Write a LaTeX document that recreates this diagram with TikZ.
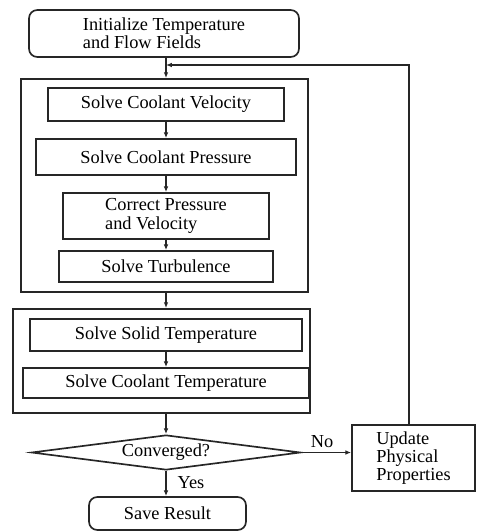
\documentclass[tikz,border=0pt]{standalone}
\usepackage{fontspec}
\setmainfont{Liberation Serif}
\usepackage{tikz}
\usetikzlibrary{shapes.geometric,arrows.meta}
\tikzset{
  flowbox/.style={draw=black!85, line width=1pt, fill=white, align=left, inner sep=0pt, font=\fontsize{11}{11}\selectfont},
  flowround/.style={flowbox, rounded corners=5pt},
  flowgroup/.style={draw=black!85, line width=1.1pt, inner sep=0pt},
  flowtest/.style={flowbox, diamond, aspect=7.7},
  flowarrow/.style={draw=black!85, line width=1pt, -{Latex[length=3.5pt,width=2.8pt]}},
  flowlabel/.style={inner sep=0pt, font=\fontsize{11}{11}\selectfont},
}
\begin{document}
\begin{tikzpicture}[x=0.6pt,y=-0.6pt]
\useasboundingbox (0,0) rectangle (476,532);
\node[flowround, minimum width=162pt, minimum height=28.2pt] (init) at (164.000,33.500) {Initialize Temperature\\and Flow Fields};
\node[flowgroup, minimum width=172.2pt, minimum height=127.8pt] (flow) at (164.500,185.500) {};
\node[flowbox, minimum width=141.6pt, minimum height=19.8pt] (vel) at (166.000,104.500) {Solve Coolant Velocity};
\node[flowbox, minimum width=156pt, minimum height=21.6pt] (pres) at (166.000,157.000) {Solve Coolant Pressure};
\node[flowbox, minimum width=123.6pt, minimum height=27.6pt] (corr) at (166.000,216.000) {Correct Pressure\\and Velocity};
\node[flowbox, minimum width=128.4pt, minimum height=18.6pt] (turb) at (166.000,266.500) {Solve Turbulence};
\node[flowgroup, minimum width=178.2pt, minimum height=62.4pt] (heat) at (161.500,361.000) {};
\node[flowbox, minimum width=163.2pt, minimum height=19.2pt] (solid) at (166.000,335.000) {Solve Solid Temperature};
\node[flowbox, minimum width=171.6pt, minimum height=18pt] (cool) at (166.000,383.000) {Solve Coolant Temperature};
\node[flowtest, minimum width=161.4pt, minimum height=21pt] (conv) at (166.000,452.500) {Converged?};
\node[flowround, minimum width=94.2pt, minimum height=19.8pt] (save) at (167.500,513.500) {Save Result};
\node[flowbox, minimum width=73.8pt, minimum height=39.6pt] (upd) at (413.500,458.000) {Update\\Physical\\Properties};
\node[flowlabel] (no) at (322.000,442.000) {No};
\node[flowlabel] (yes) at (191.000,483.000) {Yes};
\coordinate (back) at (166.000,65.000);
\draw[flowarrow] (init.south -| vel.north) -- (vel.north |- flow.north);
\draw[flowarrow] (vel) -- (pres);
\draw[flowarrow] (pres) -- (corr);
\draw[flowarrow] (corr) -- (turb);
\draw[flowarrow] (flow.south -| solid.north) -- (solid.north |- heat.north);
\draw[flowarrow] (solid) -- (cool);
\draw[flowarrow] (heat.south -| conv.north) -- (conv.north);
\draw[flowarrow] (conv.east) -- (upd.west |- conv.east);
\draw[flowarrow] (conv.south) -- (save.north -| conv.south);
\draw[flowarrow] ([xshift=-2.7pt]upd.north) |- (back);
\end{tikzpicture}
\end{document}
